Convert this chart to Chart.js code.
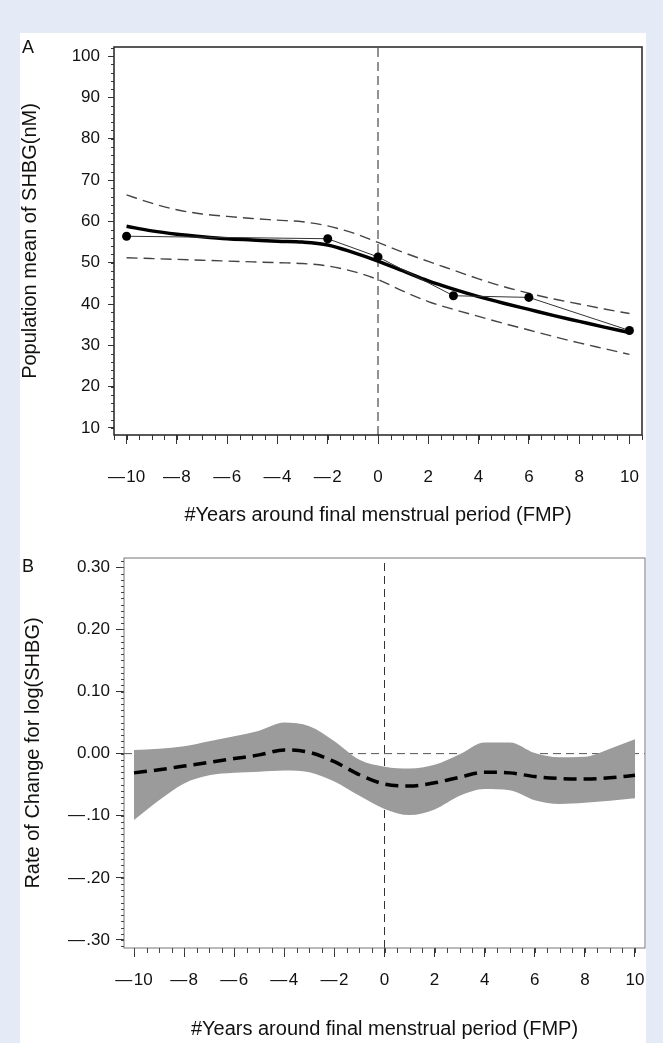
<!DOCTYPE html>
<html>
<head>
<meta charset="utf-8">
<script src="https://cdn.jsdelivr.net/npm/chart.js@4.4.1/dist/chart.umd.min.js"></script>
<style>
  body { margin: 0; background: #e4eaf6; width: 663px; height: 1043px; position: relative; overflow: hidden; font-family: "Liberation Sans", Arial, sans-serif; }
  #sheet { position: absolute; left: 20px; top: 33px; width: 626px; height: 1010px; background: #fff; }
  canvas { position: absolute; left: 0; }
  #chartA { top: 0; }
  #chartB { top: 530px; }
  .tag { position: absolute; left: 22px; font-size: 18px; line-height: 1; color: #111; }
</style>
</head>
<body>
<div id="sheet"></div>
<canvas id="chartA" width="663" height="530"></canvas>
<canvas id="chartB" width="663" height="513"></canvas>
<div class="tag" style="top:38px">A</div>
<div class="tag" style="top:557px">B</div>
<script>
// years around the final menstrual period, shared by both panels
var years = [-10, -9, -8, -7, -6, -5, -4, -3, -2, -1, 0, 1, 2, 3, 4, 5, 6, 7, 8, 9, 10];

// panel A: fitted population mean of SHBG with its confidence limits
var fitMean  = [58.8, 57.7, 56.9, 56.3, 55.8, 55.5, 55.2, 55.0, 54.3, 52.5, 50.4, 48.0, 45.6, 43.6, 41.8, 40.2, 38.7, 37.2, 35.8, 34.4, 33.1];
var fitUpper = [66.4, 64.4, 62.8, 61.8, 61.2, 60.7, 60.3, 59.9, 58.9, 57.2, 54.9, 52.5, 50.3, 48.2, 46.1, 44.2, 42.6, 41.2, 40.0, 38.8, 37.7];
var fitLower = [51.2, 51.0, 50.8, 50.6, 50.4, 50.2, 50.0, 49.8, 49.2, 47.9, 45.9, 43.1, 40.6, 38.7, 37.0, 35.3, 33.7, 32.1, 30.6, 29.2, 27.8];

// panel A: observed means
var obsYears = [-10, -2, 0, 3, 6, 10];
var obsMean  = [56.4, 55.8, 51.4, 42.0, 41.6, 33.6];

// panel B: rate of change for log(SHBG) and its confidence band
var rateMean  = [-0.031, -0.026, -0.020, -0.014, -0.008, -0.002, 0.006, 0.002, -0.013, -0.034, -0.049, -0.052, -0.047, -0.038, -0.030, -0.031, -0.037, -0.040, -0.041, -0.039, -0.035];
var rateUpper = [0.006, 0.008, 0.012, 0.020, 0.028, 0.037, 0.050, 0.044, 0.020, -0.010, -0.021, -0.024, -0.018, -0.001, 0.018, 0.018, 0.001, -0.006, -0.005, 0.008, 0.023];
var rateLower = [-0.107, -0.075, -0.048, -0.035, -0.031, -0.029, -0.027, -0.030, -0.045, -0.068, -0.089, -0.099, -0.090, -0.068, -0.057, -0.059, -0.075, -0.081, -0.079, -0.076, -0.072];

// ticks
var xTicks = [-10, -8, -6, -4, -2, 0, 2, 4, 6, 8, 10];
var xTickLabels = ['\u2014\u200a10', '\u2014\u200a8', '\u2014\u200a6', '\u2014\u200a4', '\u2014\u200a2', '0', '2', '4', '6', '8', '10'];
var yTicksA = [10, 20, 30, 40, 50, 60, 70, 80, 90, 100];
var yTickLabelsA = ['10', '20', '30', '40', '50', '60', '70', '80', '90', '100'];
var yTicksB = [-0.3, -0.2, -0.1, 0, 0.1, 0.2, 0.3];
var yTickLabelsB = ['\u2014\u200a.30', '\u2014\u200a.20', '\u2014\u200a.10', '0.00', '0.10', '0.20', '0.30'];

// axis ranges and reference lines
var xMinA = -10.5, xMaxA = 10.5, yMinA = 8.3, yMaxA = 102.2;
var xMinB = -10.4, xMaxB = 10.4, yMinB = -0.313, yMaxB = 0.315;
var refYear = 0, refRate = 0;

var FONT = '"Liberation Sans", Arial, sans-serif';
var INK = '#111';

function pts(xs, ys) {
  return xs.map(function (x, i) { return { x: x, y: ys[i] }; });
}

// draws the box round the plot area
var framePlugin = {
  id: 'frame',
  afterDraw: function (chart, args, opts) {
    var a = chart.chartArea, ctx = chart.ctx;
    ctx.save();
    ctx.strokeStyle = opts.color;
    ctx.lineWidth = opts.width;
    ctx.strokeRect(a.left, a.top, a.right - a.left, a.bottom - a.top);
    ctx.restore();
  }
};

// small unlabelled ticks between the major ones
var minorTickPlugin = {
  id: 'minorTicks',
  afterDraw: function (chart, args, opts) {
    var a = chart.chartArea, ctx = chart.ctx;
    var sx = chart.scales.x, sy = chart.scales.y;
    var n, p;
    ctx.save();
    ctx.strokeStyle = opts.color;
    ctx.lineWidth = 1;
    ctx.beginPath();
    for (n = Math.ceil(sx.min / opts.xStep - 1e-9); n * opts.xStep <= sx.max + 1e-9; n++) {
      p = Math.round(sx.getPixelForValue(n * opts.xStep)) + 0.5;
      ctx.moveTo(p, a.bottom);
      ctx.lineTo(p, a.bottom + opts.xLen);
    }
    for (n = Math.ceil(sy.min / opts.yStep - 1e-9); n * opts.yStep <= sy.max + 1e-9; n++) {
      p = Math.round(sy.getPixelForValue(n * opts.yStep)) + 0.5;
      ctx.moveTo(a.left, p);
      ctx.lineTo(a.left - opts.yLen, p);
    }
    ctx.stroke();
    ctx.restore();
  }
};

function xScale(min, max, pad, titlePad) {
  return {
    type: 'linear', min: min, max: max,
    afterBuildTicks: function (s) { s.ticks = xTicks.map(function (v) { return { value: v }; }); },
    afterFit: function (s) { s.height = 95; s.paddingLeft = 0; s.paddingRight = 0; },
    border: { display: false },
    grid: { drawOnChartArea: false, drawTicks: true, tickLength: 9, tickColor: '#333', tickWidth: 1 },
    ticks: {
      padding: pad, color: INK, font: { family: FONT, size: 17 }, maxRotation: 0, autoSkip: false,
      callback: function (v, i) { return xTickLabels[i]; }
    },
    title: {
      display: true, text: '#Years around final menstrual period (FMP)', color: INK,
      font: { family: FONT, size: 20 }, padding: { top: 0, bottom: titlePad }
    }
  };
}

function yScale(min, max, ticks, labels, width, tickLen, pad, title, titlePad) {
  return {
    type: 'linear', min: min, max: max,
    afterBuildTicks: function (s) { s.ticks = ticks.map(function (v) { return { value: v }; }); },
    afterFit: function (s) { s.width = width; s.paddingTop = 0; s.paddingBottom = 0; },
    border: { display: false },
    grid: { drawOnChartArea: false, drawTicks: true, tickLength: tickLen, tickColor: '#333', tickWidth: 1 },
    ticks: {
      padding: pad, color: INK, font: { family: FONT, size: 17 }, autoSkip: false,
      callback: function (v, i) { return labels[i]; }
    },
    title: {
      display: true, text: title, color: INK,
      font: { family: FONT, size: 20 }, padding: { top: titlePad, bottom: 0 }
    }
  };
}

var common = {
  responsive: false,
  animation: false,
  events: [],
  plugins: { legend: { display: false }, tooltip: { enabled: false } }
};

// Panel A
new Chart(document.getElementById('chartA'), {
  type: 'line',
  data: {
    datasets: [
      {
        data: pts(obsYears, obsMean), borderColor: '#333', borderWidth: 1, tension: 0,
        pointRadius: 4.5, pointBackgroundColor: '#000', pointBorderWidth: 0, order: 0
      },
      {
        data: pts(years, fitMean), borderColor: '#000', borderWidth: 3.5,
        cubicInterpolationMode: 'monotone', pointRadius: 0, order: 1
      },
      {
        data: pts(years, fitUpper), borderColor: '#444', borderWidth: 1.4, borderDash: [11, 6],
        cubicInterpolationMode: 'monotone', pointRadius: 0, order: 2
      },
      {
        data: pts(years, fitLower), borderColor: '#444', borderWidth: 1.4, borderDash: [11, 6],
        cubicInterpolationMode: 'monotone', pointRadius: 0, order: 3
      },
      {
        data: [{ x: refYear, y: yMinA }, { x: refYear, y: yMaxA }], borderColor: '#222', borderWidth: 1,
        borderDash: [9, 5], pointRadius: 0, order: 5
      }
    ]
  },
  options: Object.assign({}, common, {
    layout: { padding: { left: 0, top: 47, right: 21, bottom: 0 } },
    scales: {
      x: xScale(xMinA, xMaxA, 23, 3),
      y: yScale(yMinA, yMaxA, yTicksA, yTickLabelsA, 114, 6, 8, 'Population mean of SHBG(nM)', 18)
    },
    plugins: Object.assign({}, common.plugins, {
      frame: { color: '#222', width: 1.5 },
      minorTicks: { color: '#333', xStep: 0.5, xLen: 5, yStep: 2, yLen: 3 }
    })
  }),
  plugins: [framePlugin, minorTickPlugin]
});

// Panel B
new Chart(document.getElementById('chartB'), {
  type: 'line',
  data: {
    datasets: [
      {
        data: pts(years, rateMean), borderColor: '#000', borderWidth: 3.5, borderDash: [13, 7],
        cubicInterpolationMode: 'monotone', pointRadius: 0, order: 0
      },
      {
        data: pts(years, rateUpper), borderColor: 'rgba(0,0,0,0)', borderWidth: 0,
        backgroundColor: '#9b9b9b', fill: '+1',
        cubicInterpolationMode: 'monotone', pointRadius: 0, order: 1
      },
      {
        data: pts(years, rateLower), borderColor: 'rgba(0,0,0,0)', borderWidth: 0,
        cubicInterpolationMode: 'monotone', pointRadius: 0, order: 2
      },
      {
        data: [{ x: xMinB, y: refRate }, { x: xMaxB, y: refRate }], borderColor: '#555', borderWidth: 1,
        borderDash: [8, 5], pointRadius: 0, order: 5
      },
      {
        data: [{ x: refYear, y: yMinB }, { x: refYear, y: yMaxB }], borderColor: '#333', borderWidth: 1,
        borderDash: [8, 5], pointRadius: 0, order: 6
      }
    ]
  },
  options: Object.assign({}, common, {
    layout: { padding: { left: 0, top: 28, right: 18, bottom: 0 } },
    scales: {
      x: xScale(xMinB, xMaxB, 13, 2),
      y: yScale(yMinB, yMaxB, yTicksB, yTickLabelsB, 124, 8, 6, 'Rate of Change for log(SHBG)', 21)
    },
    plugins: Object.assign({}, common.plugins, {
      frame: { color: '#777', width: 1 },
      minorTicks: { color: '#444', xStep: 0.5, xLen: 5, yStep: 0.01, yLen: 3 }
    })
  }),
  plugins: [framePlugin, minorTickPlugin]
});
</script>
</body>
</html>
